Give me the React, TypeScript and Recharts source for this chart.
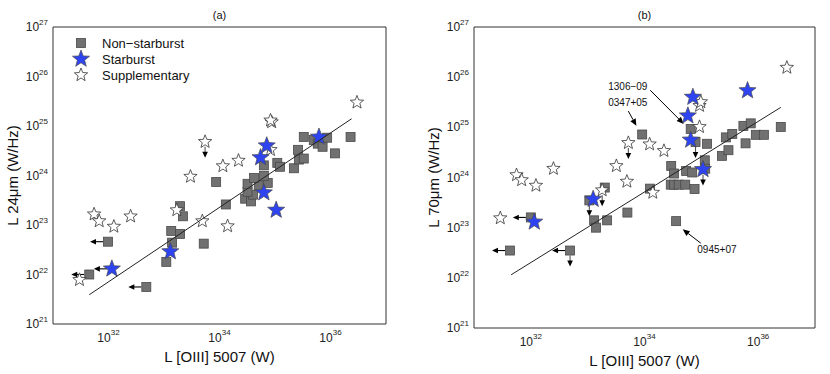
import React from "react";
import { ScatterChart, Scatter, XAxis, YAxis, ReferenceLine, Legend } from "recharts";

type Pt = { x: number; y: number; lim?: string };
type Note = { x: number; y: number; text: string };
type Seg = { from: { x: number; y: number }; to: { x: number; y: number } };

const FONT = "'Liberation Sans', Arial, Helvetica, sans-serif";

const xTicks = [1e32, 1e34, 1e36];
const yTicks = [1e21, 1e22, 1e23, 1e24, 1e25, 1e26, 1e27];
const xDomain = [1e31, 1e37];
const yDomain = [1e21, 1e27];
const yMinor = yTicks
  .slice(0, -1)
  .flatMap((d) => [1, 2, 3, 4, 5, 6, 7, 8, 9].map((m) => m * d))
  .concat([1e27]);

const legendLabels = ["Non\u2212starburst", "Starburst", "Supplementary"];

// panel (a): L 24um
const nonSbA: Pt[] = [
  { x: 9.8e31, y: 4.6e22, lim: "l" },
  { x: 4.5e31, y: 1.0e22, lim: "l" },
  { x: 4.8e32, y: 5.6e21, lim: "l" },
  { x: 1.1e33, y: 1.8e22 },
  { x: 1.35e33, y: 7.6e22 },
  { x: 1.4e33, y: 4.4e22 },
  { x: 1.95e33, y: 6.6e22 },
  { x: 1.95e33, y: 2.4e23 },
  { x: 2.2e33, y: 1.5e23 },
  { x: 5.2e33, y: 4.2e22 },
  { x: 8.7e33, y: 7.4e23 },
  { x: 1.3e34, y: 2.6e23 },
  { x: 2.9e34, y: 3.4e23 },
  { x: 3.7e34, y: 3.0e23 },
  { x: 4.0e34, y: 4.1e23 },
  { x: 3.2e34, y: 4.7e23 },
  { x: 3.2e34, y: 6.8e23 },
  { x: 5.1e34, y: 6.2e23 },
  { x: 7.4e34, y: 7.1e23 },
  { x: 6.3e34, y: 9.8e23 },
  { x: 4.2e34, y: 8.9e23 },
  { x: 6.3e34, y: 1.6e24 },
  { x: 1.1e35, y: 1.8e24 },
  { x: 1.23e35, y: 1.5e24 },
  { x: 2.2e35, y: 1.4e24 },
  { x: 2.6e35, y: 3.3e24 },
  { x: 2.7e35, y: 2.1e24 },
  { x: 3.3e35, y: 2.2e24 },
  { x: 3.3e35, y: 6.0e24 },
  { x: 5.0e35, y: 5.2e24 },
  { x: 8.7e35, y: 5.8e24 },
  { x: 2.3e36, y: 6.0e24 },
  { x: 5.9e35, y: 4.4e24 },
  { x: 7.2e35, y: 3.8e24 },
  { x: 1.2e36, y: 2.8e24 },
];

const sbA: Pt[] = [
  { x: 1.15e32, y: 1.3e22, lim: "l" },
  { x: 1.3e33, y: 2.9e22 },
  { x: 6.3e34, y: 4.5e23 },
  { x: 1.05e35, y: 2.0e23 },
  { x: 7.1e34, y: 4.0e24 },
  { x: 5.5e34, y: 2.3e24 },
  { x: 6.2e35, y: 6.0e24 },
];

const suppA: Pt[] = [
  { x: 5.5e33, y: 4.8e24, lim: "d" },
  { x: 3.0e33, y: 9.5e23 },
  { x: 1.15e34, y: 1.55e24 },
  { x: 2.2e34, y: 2.0e24 },
  { x: 8.7e34, y: 1.2e25 },
  { x: 8.3e34, y: 1.3e25 },
  { x: 8.3e34, y: 3.3e24 },
  { x: 3.0e36, y: 3.0e25 },
  { x: 5.5e31, y: 1.65e23 },
  { x: 6.8e31, y: 1.2e23 },
  { x: 1.25e32, y: 9.3e22 },
  { x: 2.5e32, y: 1.5e23 },
  { x: 1.7e33, y: 2.0e23 },
  { x: 3.0e31, y: 7.8e21 },
  { x: 4.9e33, y: 1.2e23 },
  { x: 1.4e34, y: 9.5e22 },
];

const fitA: Pt[] = [
  { x: 4.5e31, y: 3.9e21 },
  { x: 2.4e36, y: 1.4e25 },
];

// panel (b): L 70um
const nonSbB: Pt[] = [
  { x: 4.3e31, y: 3.5e22, lim: "l" },
  { x: 4.9e32, y: 3.5e22, lim: "ld" },
  { x: 1.0e32, y: 1.6e23, lim: "l" },
  { x: 1.07e33, y: 3.5e23, lim: "d" },
  { x: 1.3e33, y: 1.4e23 },
  { x: 1.4e33, y: 1.0e23 },
  { x: 2.2e33, y: 1.4e23 },
  { x: 2.0e33, y: 6.3e23 },
  { x: 5.0e33, y: 2.0e23 },
  { x: 1.25e34, y: 6.0e23 },
  { x: 2.9e34, y: 7.2e23 },
  { x: 3.3e34, y: 7.2e23 },
  { x: 4.0e34, y: 7.2e23 },
  { x: 5.2e34, y: 7.2e23 },
  { x: 7.6e34, y: 5.9e23 },
  { x: 3.6e34, y: 1.35e23 },
  { x: 9.1e33, y: 7.2e24 },
  { x: 6.5e34, y: 9.3e24 },
  { x: 7.9e34, y: 5.1e24, lim: "d" },
  { x: 1.26e35, y: 4.7e24 },
  { x: 2.95e34, y: 1.7e24 },
  { x: 3.3e34, y: 1.2e24 },
  { x: 5.4e34, y: 1.35e24 },
  { x: 6.9e34, y: 1.26e24 },
  { x: 1.15e35, y: 2.2e24 },
  { x: 1.17e35, y: 1.5e24 },
  { x: 2.3e35, y: 2.7e24 },
  { x: 3.0e35, y: 3.5e24 },
  { x: 2.7e35, y: 6.3e24 },
  { x: 3.5e35, y: 7.4e24 },
  { x: 6.0e35, y: 4.8e24 },
  { x: 5.5e35, y: 1.07e25 },
  { x: 7.4e35, y: 1.2e25 },
  { x: 9.1e35, y: 7.1e24 },
  { x: 1.26e36, y: 7.1e24 },
  { x: 2.5e36, y: 1.02e25 },
];

const sbB: Pt[] = [
  { x: 1.15e32, y: 1.3e23 },
  { x: 1.25e33, y: 3.7e23 },
  { x: 7.1e34, y: 4.0e25 },
  { x: 5.8e34, y: 1.7e25 },
  { x: 6.5e34, y: 5.6e24 },
  { x: 1.07e35, y: 1.45e24, lim: "d" },
  { x: 6.5e35, y: 5.4e25 },
];

const suppB: Pt[] = [
  { x: 5.6e31, y: 1.12e24 },
  { x: 6.9e31, y: 8.9e23 },
  { x: 1.23e32, y: 6.9e23 },
  { x: 2.5e32, y: 1.5e24 },
  { x: 3.2e33, y: 1.7e24 },
  { x: 4.9e33, y: 8.3e23 },
  { x: 5.2e33, y: 4.9e24, lim: "d" },
  { x: 1.23e34, y: 4.6e24 },
  { x: 2.2e34, y: 3.4e24 },
  { x: 9.3e34, y: 2.7e25 },
  { x: 9.8e34, y: 3.2e25 },
  { x: 9.3e34, y: 1.02e25 },
  { x: 3.2e36, y: 1.55e26 },
  { x: 2.9e31, y: 1.55e23 },
  { x: 1.8e33, y: 5.6e23, lim: "d" },
  { x: 1.4e34, y: 5.0e23 },
];

const fitB: Pt[] = [
  { x: 4.5e31, y: 1.15e22 },
  { x: 2.5e36, y: 2.5e25 },
];

const notesB: Note[] = [
  { x: 2.3e33, y: 6.6e25, text: "1306\u221209" },
  { x: 2.3e33, y: 3.1e25, text: "0347+05" },
  { x: 8.5e34, y: 3.6e22, text: "0945+07" },
];

const arrowsB: Seg[] = [
  { from: { x: 1.26e34, y: 5.5e25 }, to: { x: 4.9e34, y: 1.17e25 } },
  { from: { x: 5.2e33, y: 2.1e25 }, to: { x: 7.2e33, y: 1.07e25 } },
  { from: { x: 9.8e34, y: 4.9e22 }, to: { x: 4.7e34, y: 9.3e22 } },
];

function starPath(cx: number, cy: number, R: number, r: number) {
  let d = "";
  for (let i = 0; i < 10; i++) {
    const rad = i % 2 ? r : R;
    const a = -Math.PI / 2 + (i * Math.PI) / 5;
    d += (i ? "L" : "M") + (cx + rad * Math.cos(a)).toFixed(2) + "," + (cy + rad * Math.sin(a)).toFixed(2);
  }
  return d + "Z";
}

function limArrows(cx: number, cy: number, lim?: string) {
  const out: React.ReactNode[] = [];
  if (lim && lim.includes("l")) {
    out.push(<line key="l" x1={cx - 5} y1={cy} x2={cx - 13} y2={cy} stroke="#000" strokeWidth={1.1} />);
    out.push(<polygon key="lh" points={`${cx - 18},${cy} ${cx - 12},${cy - 2.8} ${cx - 12},${cy + 2.8}`} fill="#000" />);
  }
  if (lim && lim.includes("d")) {
    out.push(<line key="d" x1={cx} y1={cy + 5} x2={cx} y2={cy + 11} stroke="#555" strokeWidth={1.1} />);
    out.push(<polygon key="dh" points={`${cx},${cy + 16} ${cx - 2.8},${cy + 10} ${cx + 2.8},${cy + 10}`} fill="#000" />);
  }
  return out;
}

const SquareShape = (p: any) => (
  <g>
    {limArrows(p.cx, p.cy, p.payload?.lim)}
    <rect x={p.cx - 4.5} y={p.cy - 4.5} width={9} height={9} fill="#717171" stroke="#4a4a4a" strokeWidth={0.8} />
  </g>
);

const BlueStar = (p: any) => (
  <g>
    {limArrows(p.cx, p.cy, p.payload?.lim)}
    <path d={starPath(p.cx, p.cy, 9, 3.8)} fill="#2e44f0" stroke="#4a4a4a" strokeWidth={0.7} />
  </g>
);

const OpenStar = (p: any) => (
  <g>
    {limArrows(p.cx, p.cy, p.payload?.lim)}
    <path d={starPath(p.cx, p.cy, 7, 3)} fill="#fff" stroke="#333" strokeWidth={0.8} />
  </g>
);

const NoteText = (p: any) => (
  <text x={p.cx} y={p.cy} textAnchor="start" dominantBaseline="central" fontSize={10} fontFamily={FONT} fill="#111">
    {p.payload.text}
  </text>
);

const ArrowShape = (p: any) => {
  const { x1, y1, x2, y2 } = p;
  const a = Math.atan2(y2 - y1, x2 - x1);
  const L = 7;
  const W = 3;
  const bx = x2 - L * Math.cos(a);
  const by = y2 - L * Math.sin(a);
  const nx = -Math.sin(a) * W;
  const ny = Math.cos(a) * W;
  return (
    <g>
      <line x1={x1} y1={y1} x2={bx} y2={by} stroke="#000" strokeWidth={1} />
      <polygon points={`${x2},${y2} ${bx + nx},${by + ny} ${bx - nx},${by - ny}`} fill="#000" />
    </g>
  );
};

const XTick = (p: any) => {
  const e = Math.round(Math.log10(p.payload.value));
  return (
    <text x={p.x} y={p.y + 10} textAnchor="middle" fontSize={12} fontFamily={FONT} fill="#222">
      10
      <tspan dy={-7} fontSize={8}>
        {e}
      </tspan>
    </text>
  );
};

const YTick = (p: any) => {
  const e = Math.round(Math.log10(p.payload.value));
  return (
    <text x={p.x} y={p.y + 4} textAnchor="end" fontSize={12} fontFamily={FONT} fill="#222">
      10
      <tspan dy={-6} fontSize={8}>
        {e}
      </tspan>
    </text>
  );
};

const LegendContent = () => (
  <svg width={150} height={52} style={{ display: "block" }}>
    {legendLabels.map((t, i) => {
      const cy = 10 + i * 16;
      return (
        <g key={t}>
          {i === 0 && <rect x={7.5} y={cy - 4.5} width={9} height={9} fill="#717171" stroke="#4a4a4a" strokeWidth={0.8} />}
          {i === 1 && <path d={starPath(12, cy, 9, 3.8)} fill="#2e44f0" stroke="#4a4a4a" strokeWidth={0.7} />}
          {i === 2 && <path d={starPath(12, cy, 7, 3)} fill="#fff" stroke="#333" strokeWidth={0.8} />}
          <text x={33} y={cy} dominantBaseline="central" fontSize={13} fontFamily={FONT} fill="#111">
            {t}
          </text>
        </g>
      );
    })}
  </svg>
);

type PanelProps = {
  title: string;
  yLabel: string;
  nonSb: Pt[];
  sb: Pt[];
  supp: Pt[];
  fit: Pt[];
  notes?: Note[];
  arrows?: Seg[];
  margin: { top: number; right: number; bottom: number; left: number };
  showLegend?: boolean;
};

function Panel({ title, yLabel, nonSb, sb, supp, fit, notes, arrows, margin, showLegend }: PanelProps) {
  const W = 415;
  const H = 374;
  const plotL = margin.left + 40;
  const plotR = W - margin.right;
  const plotB = H - margin.bottom - 30;
  const cx = (plotL + plotR) / 2;
  const cy = (margin.top + plotB) / 2;
  const axisStroke = "#333";
  return (
    <ScatterChart width={W} height={H} margin={margin}>
      <XAxis
        type="number"
        dataKey="x"
        scale="log"
        domain={xDomain}
        allowDataOverflow
        ticks={xTicks}
        tick={<XTick />}
        tickLine={false}
        tickSize={0}
        tickMargin={8}
        height={30}
        stroke={axisStroke}
        label={() => (
          <text x={cx} y={plotB + 38} textAnchor="middle" fontSize={15} fontFamily={FONT} fill="#111">
            L [OIII] 5007 (W)
          </text>
        )}
      />
      <XAxis
        xAxisId="xb"
        type="number"
        scale="log"
        domain={xDomain}
        allowDataOverflow
        ticks={xTicks}
        orientation="bottom"
        mirror
        tick={false}
        axisLine={false}
        tickSize={4}
        stroke={axisStroke}
      />
      <XAxis
        xAxisId="xt"
        type="number"
        scale="log"
        domain={xDomain}
        allowDataOverflow
        ticks={xTicks}
        orientation="top"
        mirror
        tick={false}
        tickSize={4}
        stroke={axisStroke}
        label={() => (
          <text x={cx} y={19} textAnchor="middle" fontSize={11} fontFamily={FONT} fill="#111">
            {title}
          </text>
        )}
      />
      <YAxis
        type="number"
        dataKey="y"
        scale="log"
        domain={yDomain}
        allowDataOverflow
        ticks={yTicks}
        tick={<YTick />}
        tickLine={false}
        tickSize={0}
        tickMargin={5}
        width={40}
        stroke={axisStroke}
        label={() => (
          <text
            x={plotL - 41}
            y={cy}
            textAnchor="middle"
            dominantBaseline="central"
            fontSize={15}
            fontFamily={FONT}
            fill="#111"
            transform={`rotate(-90 ${plotL - 41} ${cy})`}
          >
            {yLabel}
          </text>
        )}
      />
      <YAxis
        yAxisId="yl"
        type="number"
        scale="log"
        domain={yDomain}
        allowDataOverflow
        ticks={yMinor}
        orientation="left"
        mirror
        tick={false}
        axisLine={false}
        tickSize={3}
        stroke={axisStroke}
      />
      <YAxis
        yAxisId="yr"
        type="number"
        scale="log"
        domain={yDomain}
        allowDataOverflow
        ticks={yMinor}
        orientation="right"
        mirror
        tick={false}
        tickSize={3}
        stroke={axisStroke}
      />
      {showLegend && (
        <Legend
          layout="vertical"
          align="center"
          verticalAlign="middle"
          content={<LegendContent />}
          wrapperStyle={{ left: 69, top: 33, width: 150, height: 52 }}
        />
      )}
      <Scatter name="Non-starburst" data={nonSb} shape={<SquareShape />} isAnimationActive={false} />
      <Scatter name="Supplementary" data={supp} shape={<OpenStar />} isAnimationActive={false} />
      <Scatter name="Starburst" data={sb} shape={<BlueStar />} isAnimationActive={false} />
      <Scatter
        name="fit"
        data={fit}
        line={{ stroke: "#222", strokeWidth: 1 }}
        shape={() => <g />}
        isAnimationActive={false}
        legendType="none"
      />
      {(arrows || []).map((a, i) => (
        <ReferenceLine key={i} segment={[a.from, a.to]} shape={<ArrowShape />} ifOverflow="visible" />
      ))}
      {notes && <Scatter name="notes" data={notes} shape={<NoteText />} isAnimationActive={false} legendType="none" />}
    </ScatterChart>
  );
}

export default function App() {
  return (
    <div style={{ position: "absolute", left: 0, top: 0, width: 830, height: 374, background: "#fff" }}>
      <div style={{ position: "absolute", left: 0, top: 0 }}>
        <Panel
          title="(a)"
          yLabel={"L 24\u03bcm (W/Hz)"}
          nonSb={nonSbA}
          sb={sbA}
          supp={suppA}
          fit={fitA}
          margin={{ top: 27, right: 29, bottom: 20, left: 13 }}
          showLegend
        />
      </div>
      <div style={{ position: "absolute", left: 415, top: 0 }}>
        <Panel
          title="(b)"
          yLabel={"L 70\u03bcm (W/Hz)"}
          nonSb={nonSbB}
          sb={sbB}
          supp={suppB}
          fit={fitB}
          notes={notesB}
          arrows={arrowsB}
          margin={{ top: 27, right: 15, bottom: 16, left: 19 }}
        />
      </div>
    </div>
  );
}
